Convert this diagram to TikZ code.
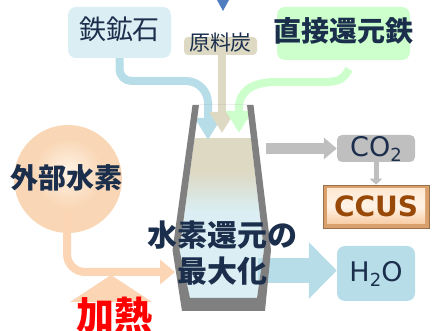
\documentclass[tikz,border=0pt]{standalone}
\usepackage{fontspec}
\usetikzlibrary{arrows.meta}
\newfontfamily\jpfont{Noto Sans CJK JP}
\newfontfamily\latfont{DejaVu Sans}
\newcommand\setfs[1]{\fontsize{#1}{#1}\selectfont}
\definecolor{navy}{HTML}{1B2F4D}
\definecolor{icebox}{HTML}{DAEEF3}
\definecolor{skyflow}{HTML}{B7DEE8}
\definecolor{coalflow}{HTML}{DDD9C3}
\definecolor{mint}{HTML}{CCFFCC}
\definecolor{ashflow}{HTML}{BFBFBF}
\definecolor{wallgray}{HTML}{808080}
\definecolor{peach}{HTML}{FCD5B5}
\definecolor{marker}{HTML}{4F7EC0}
\definecolor{rust}{HTML}{984807}
\definecolor{sphA}{HTML}{FFF2E4}
\definecolor{sphB}{HTML}{F9D7B6}
\definecolor{sphC}{HTML}{D8B08A}
\definecolor{sphD}{HTML}{6A5848}
\definecolor{bevelA}{HTML}{FDE6CF}
\definecolor{bevelB}{HTML}{FFF3E6}
\definecolor{bevelC}{HTML}{F5C394}
\definecolor{bevelEdge}{HTML}{D9A06C}
\pgfdeclareradialshading{sphereshade}{\pgfpoint{0bp}{4bp}}{color(0bp)=(sphA); color(16bp)=(sphB); color(36bp)=(sphB); color(45bp)=(sphC); color(50bp)=(sphD)}
\begin{document}
\begin{tikzpicture}[x=1pt, y=-1pt,
  box/.style={rounded corners=8pt, inner sep=0pt, text=navy},
  flow/.style={line width=8pt},
  jpbold/.style={font=\jpfont\bfseries\setfs{#1}, text=navy, inner sep=0pt},
]
\useasboundingbox (0,0) rectangle (432,331);

% marker at the top edge
\fill[marker] (217,0) -- (229,0) -- (223,11) -- cycle;

% furnace charge: coke/ore layer fading into the hydrogen zone
\begin{scope}
  \clip (199,105) -- (179.5,250) -- (190,298) -- (257,298) -- (264,250) -- (247,105) -- cycle;
  \fill[coalflow] (170,138) rectangle (275,172);
  \shade[top color=coalflow, bottom color=icebox] (170,171.5) rectangle (275,212);
  \fill[icebox] (170,211.5) rectangle (275,300);
\end{scope}

% source boxes
\node[box, fill=icebox, minimum width=103pt, minimum height=51pt,
      label={[font=\jpfont\setfs{27}, text=navy, yshift=3pt]center:鉄鉱石}] (ore) at (119.5,32.5) {};
\node[box, fill=coalflow, rounded corners=4pt, minimum width=73pt,
      text height=12pt, text depth=2pt, inner sep=2pt,
      font=\jpfont\setfs{21}] (coal) at (220.5,46) {原料炭};
\node[box, fill=mint, minimum width=133pt, minimum height=53pt,
      label={[jpbold=28, yshift=3pt]center:直接還元鉄}] (dri) at (343.5,33.5) {};

% feed streams into the furnace top
\coordinate (inA) at (208,140);
\coordinate (inB) at (222,133);
\coordinate (inC) at (239,133);
\coordinate (driTail) at (349,69);
\draw[flow, skyflow, -{Triangle[length=22pt,width=25pt]}]
  (ore.south) [rounded corners=12pt] -- (119.5,81) [rounded corners=22pt] -- (208,81) -- (inA);
\draw[flow, coalflow, -{Triangle[length=21pt,width=24pt]}]
  (coal.south -| inB) -- (inB);
\draw[flow, mint, -{Triangle[length=22pt,width=25pt]}]
  (driTail) .. controls (343,81) and (336,82) .. (322,82) -- (276,82)
  .. controls (251,82) and (239,92) .. (239,108) -- (inC);

% external hydrogen sphere and its feed
\node[circle, minimum size=108pt, inner sep=0pt, shade, shading=sphereshade] (hsrc) at (68,179) {};
\coordinate (hStart) at (67,210);
\coordinate (hEnd) at (175,272);
\draw[flow, peach, rounded corners=18pt, -{Triangle[length=15pt,width=24pt]}] (hStart) |- (hEnd);
\node[jpbold=28] (hsrcText) at (67,178) {外部水素};

% heating
\fill[peach] (70,302) -- (111,275) -- (152,302) -- cycle;
\node[font=\jpfont\bfseries\setfs{38}, text=red, inner sep=0pt] (heat) at (115,315) {加熱};

% product boxes
\node[box, fill=ashflow, rounded corners=5pt, minimum width=78pt, minimum height=27pt,
      font=\latfont\setfs{27}] (co2) at (376,148.5) {CO\raisebox{-5pt}{\setfs{18}2}};
\node[draw=bevelEdge!70!black, line width=0.6pt, fill=bevelEdge, minimum width=106pt, minimum height=43pt,
      inner sep=0pt,
      path picture={\shade[top color=bevelA, bottom color=bevelC, middle color=bevelB]
        ([shift={(4pt,-4pt)}]path picture bounding box.north west) rectangle
        ([shift={(-4pt,4pt)}]path picture bounding box.south east);}] (ccus) at (376,206.5) {};
\node[font=\latfont\bfseries\setfs{28}, text=rust, inner sep=0pt] (ccusText) at (ccus.center) {CCUS};
\node[box, fill=skyflow, minimum width=78pt, minimum height=55pt,
      font=\latfont\setfs{27}] (h2o) at (376,273.5) {H\raisebox{-5pt}{\setfs{18}2}O};

% off-gas and water streams
\coordinate (gasOut) at (266,148.5);
\coordinate (waterOut) at (258,270.5);
\draw[line width=11pt, ashflow, -{Triangle[length=13pt,width=21pt]}] (gasOut) -- (co2.west);
\draw[line width=5pt, ashflow, -{Triangle[length=6pt,width=12pt]}] (co2.south) -- (ccus.north);
\draw[line width=25pt, skyflow, -{Triangle[length=28pt,width=55pt]}] (waterOut) -- ([yshift=3pt]h2o.west);

% furnace shell
\fill[wallgray, even odd rule]
  (192.5,105) -- (172.5,250) -- (182,311) -- (265,311) -- (271,250) -- (253.5,105) -- cycle
  (199,105) -- (179.5,250) -- (190,298) -- (257,298) -- (264,250) -- (247,105) -- cycle;

% reaction label
\node[font=\jpfont\bfseries\fontsize{30}{36}\selectfont, text=navy, align=center, inner sep=0pt]
  (reduction) at (222.5,253) {水素還元の\\最大化};
\end{tikzpicture}
\end{document}
